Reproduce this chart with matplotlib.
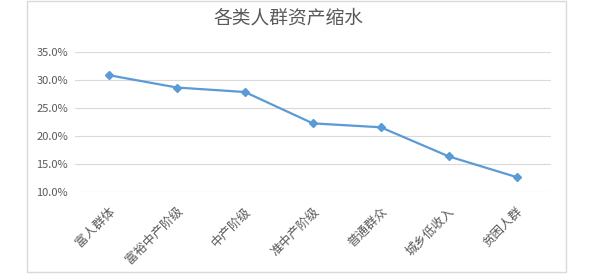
import matplotlib
matplotlib.use('Agg')
import matplotlib.pyplot as plt
import matplotlib.transforms as mtransforms
from matplotlib.patches import Rectangle
from matplotlib.ticker import FuncFormatter

plt.rcParams['font.family'] = ['Noto Sans CJK SC', 'DejaVu Sans']

# data
categories = ['富人群体', '富裕中产阶级', '中产阶级', '准中产阶级', '普通群众', '城乡低收入', '贫困人群']
shrink_pct = [30.8, 28.6, 27.8, 22.2, 21.5, 16.3, 12.6]
y_ticks = [10, 15, 20, 25, 30, 35]
title = '各类人群资产缩水'

text_grey = '#595959'
grid_grey = '#d9d9d9'
line_blue = '#5b9bd5'

fig = plt.figure(figsize=(6, 2.77), dpi=100)
fig.patch.set_facecolor('white')

# outer chart border
fig.patches.append(Rectangle((0.0455, 0.019), 0.8975, 0.978, transform=fig.transFigure,
                             fill=False, edgecolor=grid_grey, linewidth=1.0))

ax = fig.add_axes([0.125, 0.308, 0.7928, 0.5054])
x = list(range(len(categories)))
ax.plot(x, shrink_pct, color=line_blue, linewidth=1.6, marker='D', markersize=4.5,
        markerfacecolor=line_blue, markeredgecolor=line_blue)

ax.set_xlim(-0.5, len(categories) - 0.5)
ax.set_ylim(10, 35)
ax.set_yticks(y_ticks)
ax.yaxis.set_major_formatter(FuncFormatter(lambda v, p: '%.1f%%' % v))
ax.grid(axis='y', color=grid_grey, linewidth=0.8)
ax.set_axisbelow(True)
for s in ax.spines.values():
    s.set_visible(False)

ax.tick_params(axis='y', length=0, pad=5, labelsize=8, labelcolor=text_grey)
ax.tick_params(axis='x', length=0)
ax.set_xticks(x)
ax.set_xticklabels(categories, rotation=45, ha='right', va='center',
                   rotation_mode='anchor', fontsize=9, color=text_grey)
offset = mtransforms.ScaledTranslation(3 / 72, -9 / 72, fig.dpi_scale_trans)
for lab in ax.get_xticklabels():
    lab.set_transform(lab.get_transform() + offset)

fig.text(0.48, 0.933, title, ha='center', va='center', fontsize=13.5, color=text_grey)

fig.savefig('out.png', dpi=100, facecolor='white')
